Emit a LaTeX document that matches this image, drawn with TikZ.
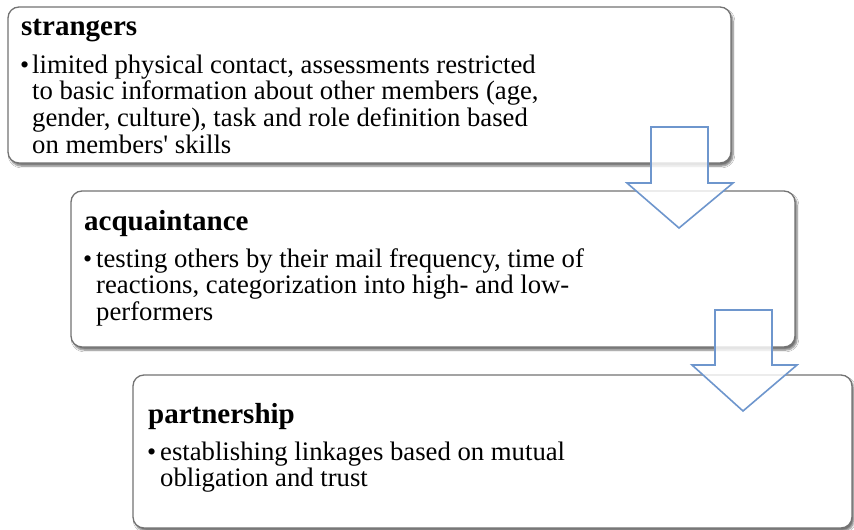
\documentclass[tikz,border=0pt]{standalone}
\usepackage{fontspec}
\setmainfont{Liberation Serif}
\usetikzlibrary{shadows,shadows.blur}
\newcommand{\mylines}[1]{\vtop{\baselineskip=26.7pt\lineskip=0pt\lineskiplimit=0pt\halign{##\hfil\cr#1\crcr}}}
\begin{document}
\begin{tikzpicture}[x=1pt,y=1pt,
  box/.style={draw=black!55, line width=1.3pt, fill=white, rounded corners=11pt,
    anchor=north west, inner sep=0pt, outer sep=0pt,
    blur shadow={shadow xshift=2pt, shadow yshift=-3pt, shadow blur steps=6, shadow opacity=55}},
  ttl/.style={anchor=base west, inner sep=0pt, font=\fontsize{29}{32}\selectfont\bfseries},
  bul/.style={anchor=base west, inner sep=0pt, font=\fontsize{26.7}{26.7}\selectfont},
  dot/.style={anchor=base west, inner sep=0pt, font=\fontsize{26}{26.7}\selectfont},
  barrow/.style={draw={rgb,255:red,110;green,150;blue,205}, line width=1.6pt, fill=white, fill opacity=0.8, line join=miter}
]
\useasboundingbox (0,0) rectangle (854,-530);
\fill[white] (0,0) rectangle (854,-530);

\node[box, minimum width=723pt, minimum height=156pt] (b1) at (8,-7) {};
\node[box, minimum width=724pt, minimum height=156pt] (b2) at (71,-191) {};
\node[box, minimum width=719pt, minimum height=153pt] (b3) at (133,-375) {};

\node[ttl] (t1) at (21,-35) {strangers};
\node[dot] (d1) at (20,-73) {\textbullet};
\node[bul] (x1) at (32,-73) {\mylines{limited physical contact, assessments restricted\cr to basic information about other members (age,\cr gender, culture), task and role definition based\cr on members\textquotesingle\ skills}};

\node[ttl] (t2) at (84,-230) {acquaintance};
\node[dot] (d2) at (83,-267) {\textbullet};
\node[bul] (x2) at (96,-267) {\mylines{testing others by their mail frequency, time of\cr reactions, categorization into high- and low-\cr performers}};

\node[ttl] (t3) at (148,-423) {partnership};
\node[dot] (d3) at (147,-460) {\textbullet};
\node[bul] (x3) at (160,-460) {\mylines{establishing linkages based on mutual\cr obligation and trust}};

\draw[barrow] (651,-127) coordinate (a1) -- (708,-127) -- (708,-183) -- (733,-183) -- (679,-228) coordinate (a1tip) -- (627,-183) -- (651,-183) -- cycle;
\draw[barrow] (715,-310) coordinate (a2) -- (772,-310) -- (772,-365) -- (797,-365) -- (743,-411) coordinate (a2tip) -- (692,-365) -- (715,-365) -- cycle;
\end{tikzpicture}
\end{document}
